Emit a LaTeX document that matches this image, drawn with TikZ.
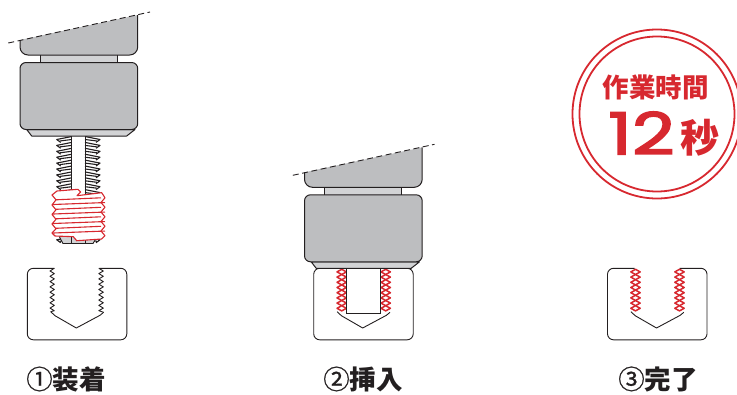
\documentclass[tikz,border=0pt]{standalone}
\usepackage{fontspec}
\setmainfont{Noto Sans CJK JP}
\newfontfamily\numfont{Poppins}[FakeBold=2.4]
\newfontfamily\circfont{Noto Sans CJK JP}[FakeBold=0.8]
\definecolor{partgray}{HTML}{BDBEC0}
\definecolor{lightgray}{HTML}{D2D3D5}
\definecolor{inkdark}{HTML}{231F20}
\definecolor{badgered}{HTML}{D7282F}
\usetikzlibrary{positioning}
\newcommand{\fs}[1]{\fontsize{#1}{#1}\selectfont}

\begin{document}
\begin{tikzpicture}[
  x=1pt, y=-1pt,
  part/.style={draw=inkdark, line width=1pt, fill=partgray, line join=round},
  lightpart/.style={part, fill=lightgray},
  profile/.style={draw=inkdark, line width=0.9pt, line join=round},
  coil/.style={draw=badgered, line width=1.1pt, line join=round},
  chain/.style={draw=badgered, line width=1.5pt, fill=white, line join=round},
  caption/.style={font=\fs{26.5}\bfseries, text=inkdark, inner sep=0pt},
  ring/.style={draw=badgered, line width=1.8pt},
  badge/.style={text=badgered, inner sep=0pt},
  chuck/.pic={
    \path[lightpart] (26.7,129.5) -- (31.7,136) -- (126.7,136) -- (135,129.5) -- cycle;
    \path[lightpart] (40,53) rectangle (117,64);
    \path[part, rounded corners=8pt] (20,40) -- (20,55) -- (137.7,55) -- (137.7,15);
    \path[part, rounded corners=6pt] (20,62.5) rectangle (137.7,129.5);
    \draw[dash pattern=on 6pt off 3.5pt, line width=0.9pt, inkdark] (8.3,43) -- (150,12);
  },
  socket/.pic={
    \draw[profile, rounded corners=6pt] (27,0) -- (0,0) -- (0,71.5) -- (99.5,71.5) -- (99.5,0) -- (72,0);
    \draw[profile] (23.4,43.4) -- (27.7,47.4) -- (49,59.7) -- (72.7,47) -- (76.3,44);
  },
  diamonds/.pic={
    \foreach \xm in {28,72}
      \foreach \k in {0,...,7}
        \path[chain] (\xm,1+5.2*\k) -- (\xm-4.7,3.6+5.2*\k) -- (\xm,6.2+5.2*\k) -- (\xm+4.7,3.6+5.2*\k) -- cycle;
  }
]
\useasboundingbox (0,0) rectangle (737,394);

% step 1
\foreach \xin/\dir in {71.7/-1,85/1} {
  \foreach \k in {0,...,17} {
    \draw[profile, line width=1.1pt] (\xin,136.5+5.9*\k) -- (\xin+\dir*15,139.5+5.9*\k) -- (\xin+\dir*11,142.4+5.9*\k);
    \draw[profile, line width=1.1pt] (\xin,139.5+5.9*\k) -- (\xin+\dir*12,141+5.9*\k);
  }
  \draw[profile] (\xin,136) -- (\xin,243.5);
}
\draw[profile, fill=lightgray] (59.5,237) -- (63,243.5) -- (93,243.5) -- (97,237);
\draw[profile] (71.7,237) -- (71.7,243.5) (85,237) -- (85,243.5);
\path[coil, fill=white] (52,195) -- (57,191) -- (78,189.3) -- (80.7,192) -- (77,195.7) -- (101.7,192.7)
  -- (105,197.8) -- (101,202.5) -- (105,207.2) -- (101,212) -- (105,216.8) -- (101,221.5) -- (105,226.2)
  -- (101,231) -- (105,235.7) -- (101.7,239) -- (76.7,240.7) -- (73.3,236.7) -- (55,236) -- (52,233)
  -- (56,228.8) -- (52,224) -- (56,219.3) -- (52,214.5) -- (56,209.8) -- (52,205) -- (56,199.8) -- cycle;
\foreach \k in {0,...,7}
  \draw[coil] ({56-4*mod(\k,2)},199.8+4.75*\k) -- ({101+4*mod(\k,2)},197.8+4.75*\k);
\pic at (0,0) {chuck};
\pic (sock1) at (27.3,268.3) {socket};
\draw[profile] (54.3,268.3) \foreach \k in {0,...,7} { -- (50,271+5.3*\k) -- (54.3,273.6+5.3*\k) } -- (50.7,311.7);
\draw[profile] (98.8,268.3) \foreach \k in {0,...,7} { -- (103.3,271+5.3*\k) -- (98.8,273.6+5.3*\k) } -- (103.6,312.3);

% step 2
\pic (sock2) at (313.7,268.3) {socket};
\pic at (313.7,268.3) {diamonds};
\path[draw=inkdark, line width=1pt, fill=white] (346.3,266) rectangle (380.3,313);
\pic at (284.5,132.3) {chuck};

% step 3
\pic (sock3) at (607.5,268.3) {socket};
\pic at (607.5,268.3) {diamonds};

% badge
\node[ring, circle, minimum size=169pt, inner sep=0pt] (outerring) at (657,114) {};
\node[ring, circle, minimum size=155pt, inner sep=0pt] (innerring) at (657,114) {};
\node[badge, font=\fs{26.5}\bfseries] (worktime) at (655.5,87.5) {作業時間};
\node[badge, font=\fs{58}\numfont] (seconds) at (641.5,133) {\scalebox{1.28}[1]{12}};
\node[badge, font=\fs{39}\bfseries] (byou) at (700,137.5) {秒};

\node[caption] (mount) at (66,379) {{\circfont\mdseries ①}装着};
\node[caption] (insert) at (363,379) {{\circfont\mdseries ②}挿入};
\node[caption] (finish) at (658,379) {{\circfont\mdseries ③}完了};
\end{tikzpicture}
\end{document}
